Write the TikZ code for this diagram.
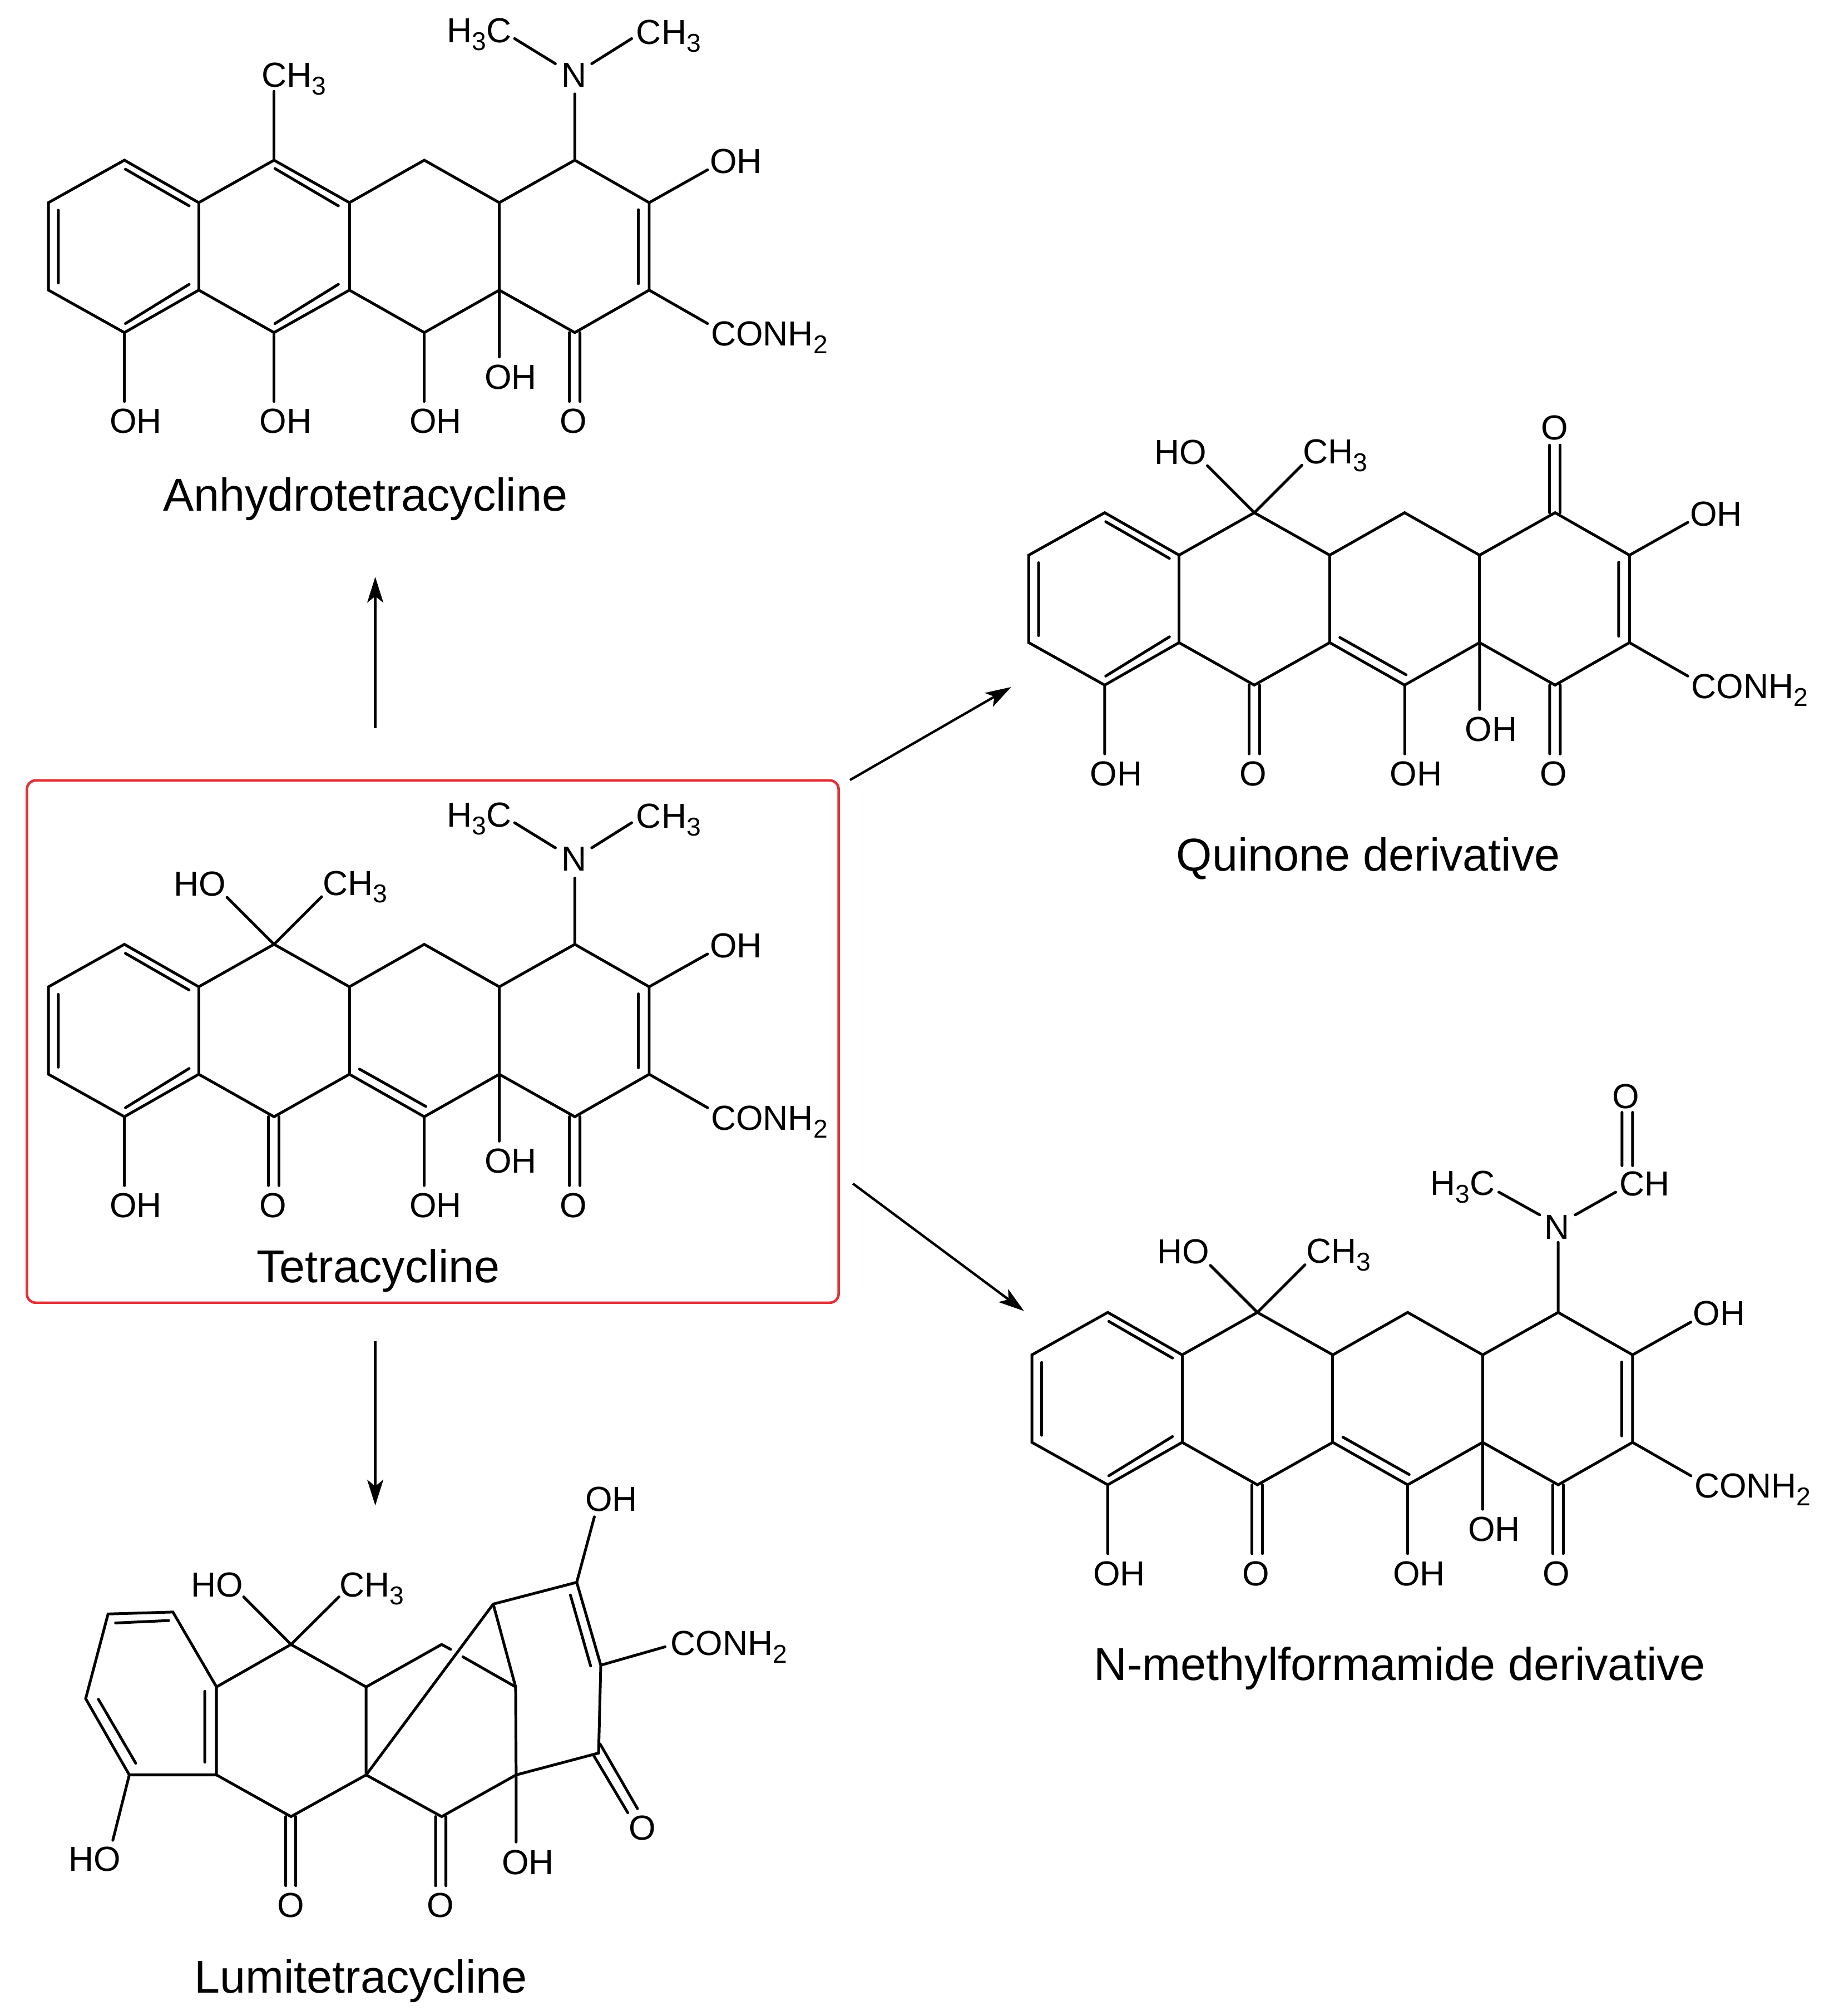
\documentclass[tikz,border=0pt]{standalone}
\usepackage{fontspec}
\setmainfont{Liberation Sans}
\usetikzlibrary{arrows.meta}
\newcommand{\subn}[1]{\raisebox{-6pt}{\fontsize{20}{20}\selectfont #1}}
\tikzset{
  bond/.style={line width=2.15pt,black,line join=miter,line cap=round},
  lbl/.style={font=\fontsize{27}{30}\selectfont,inner sep=0pt,text height=19.5pt,text depth=0pt,black},
  captiontext/.style={font=\fontsize{35.8}{40}\selectfont,inner sep=0pt,black,anchor=base},
  flow/.style={line width=1.9pt,black,-{Stealth[length=20pt,width=12.5pt,inset=5pt]}},
  frame/.style={draw={rgb,255:red,225;green,50;blue,55},line width=2pt,rounded corners=7pt}
}
% common tetracycline skeleton, #1 = name prefix
\newcommand{\skeleton}[1]{%
  \coordinate (#1a) at (37.7,157.5);  \coordinate (#1b) at (96.7,124.5);  \coordinate (#1c) at (154.5,157.5);
  \coordinate (#1d) at (213,124.5);   \coordinate (#1e) at (271.6,157.5); \coordinate (#1f) at (329.8,124.5);
  \coordinate (#1g) at (388.1,157.5); \coordinate (#1h) at (446.8,124.5); \coordinate (#1i) at (504.6,157.5);
  \coordinate (#1j) at (37.7,225.5);  \coordinate (#1k) at (96.7,258.5);  \coordinate (#1l) at (154.5,225.5);
  \coordinate (#1m) at (213,258.5);   \coordinate (#1n) at (271.6,225.5); \coordinate (#1o) at (329.8,258.5);
  \coordinate (#1p) at (388.1,225.5); \coordinate (#1q) at (446.8,258.5); \coordinate (#1r) at (504.6,225.5);
  \draw[bond] (#1a)--(#1b)--(#1c)--(#1d)--(#1e)--(#1f)--(#1g)--(#1h)--(#1i)--(#1r)--(#1q)--(#1p)--(#1o)--(#1n)--(#1m)--(#1l)--(#1k)--(#1j)--cycle;
  \draw[bond] (#1c)--(#1l) (#1e)--(#1n) (#1g)--(#1p);
  % inner lines of the double bonds
  \coordinate (#1i1) at (45.3,163.4);  \coordinate (#1i2) at (45.3,220);
  \coordinate (#1i3) at (97.5,131.5);  \coordinate (#1i4) at (147,160);
  \coordinate (#1i5) at (97.5,251.5);  \coordinate (#1i6) at (147,221);
  \coordinate (#1i7) at (496.2,163);   \coordinate (#1i8) at (496.2,220.5);
  \draw[bond] (#1i1)--(#1i2) (#1i3)--(#1i4) (#1i5)--(#1i6) (#1i7)--(#1i8);
  % substituents
  \node[lbl] (#1OHr) at (572,125) {OH};
  \node[lbl] (#1CON) at (598,259) {CONH\subn{2}};
  \node[lbl] (#1OHa) at (105.6,327) {OH};
  \node[lbl] (#1OHc) at (397,292.5) {OH};
  \node[lbl] (#1Oq)  at (445.5,327) {O};
  \coordinate (#1e1) at (550,132); \coordinate (#1e2) at (550,251.5);
  \coordinate (#1e3) at (96.7,312);  \coordinate (#1e4) at (388.1,277.5);
  \coordinate (#1e5) at (442.6,258.5); \coordinate (#1e6) at (442.6,312);
  \coordinate (#1e7) at (450.8,258.5); \coordinate (#1e8) at (450.8,312);
  \draw[bond] (#1i)--(#1e1) (#1r)--(#1e2) (#1k)--(#1e3) (#1p)--(#1e4) (#1e5)--(#1e6) (#1e7)--(#1e8);
}
% the C(OH)(CH3) centre
\newcommand{\hydroxymethyl}[1]{%
  \node[lbl] (#1HO) at (155.5,77) {HO};
  \node[lbl] (#1Me) at (276,76.5) {CH\subn{3}};
  \coordinate (#1e9) at (176.5,88);  \coordinate (#1e10) at (250,87.5);
  \draw[bond] (#1d)--(#1e9) (#1d)--(#1e10);
}
% the double bond C=C(OH) and O= of the tetracycline type
\newcommand{\tetraBottom}[1]{%
  \coordinate (#1t1) at (279.5,221.5); \coordinate (#1t2) at (331,250.5);
  \draw[bond] (#1t1)--(#1t2);
  \node[lbl] (#1Om) at (212,327) {O};
  \node[lbl] (#1OHo) at (338.6,327) {OH};
  \coordinate (#1t3) at (208.8,258.5); \coordinate (#1t4) at (208.8,312);
  \coordinate (#1t5) at (217,258.5); \coordinate (#1t6) at (217,312);
  \coordinate (#1t7) at (329.8,312);
  \draw[bond] (#1t3)--(#1t4) (#1t5)--(#1t6) (#1o)--(#1t7);
}
% dimethylamino group
\newcommand{\dimethylamino}[1]{%
  \node[lbl] (#1N) at (446.3,57.8) {N};
  \node[lbl] (#1MeL) at (372.6,23.5) {H\subn{3}C};
  \node[lbl] (#1MeR) at (519.7,24.5) {CH\subn{3}};
  \coordinate (#1n1) at (446.8,73); \coordinate (#1n2) at (431.7,49.5); \coordinate (#1n3) at (400,30);
  \coordinate (#1n4) at (460,49.5); \coordinate (#1n5) at (491,30);
  \draw[bond] (#1h)--(#1n1) (#1n2)--(#1n3) (#1n4)--(#1n5);
}
\begin{document}
\begin{tikzpicture}[x=1pt,y=-1pt]
\path[use as bounding box,fill=white] (0,0) rectangle (1425.2,1567);

% ---------- Anhydrotetracycline
\begin{scope}
  \skeleton{A}
  \dimethylamino{A}
  \node[lbl] (AMe) at (228.4,58) {CH\subn{3}};
  \coordinate (Ae9) at (213,71);
  \draw[bond] (Ad)--(Ae9);
  \coordinate (At1) at (213.7,131); \coordinate (At2) at (263,160);
  \coordinate (At3) at (213.7,251.5); \coordinate (At4) at (263,221);
  \draw[bond] (At1)--(At2) (At3)--(At4);
  \node[lbl] (AOHm) at (222,327) {OH};
  \node[lbl] (AOHo) at (338.6,327) {OH};
  \coordinate (At5) at (213,312); \coordinate (At6) at (329.8,312);
  \draw[bond] (Am)--(At5) (Ao)--(At6);
\end{scope}
\node[captiontext] (Acap) at (284,397) {Anhydrotetracycline};

% ---------- Tetracycline
\node[frame,minimum width=631pt,minimum height=406pt,inner sep=0pt] (box) at (336.4,809.6) {};
\begin{scope}[shift={(0,609.5)}]
  \skeleton{T}
  \dimethylamino{T}
  \hydroxymethyl{T}
  \tetraBottom{T}
\end{scope}
\node[captiontext] (Tcap) at (294,997) {Tetracycline};

% ---------- Quinone derivative
\begin{scope}[shift={(762,274)}]
  \skeleton{Q}
  \hydroxymethyl{Q}
  \tetraBottom{Q}
  \node[lbl] (QOt) at (446.3,58) {O};
  \coordinate (Qo1) at (442.6,124.5); \coordinate (Qo2) at (442.6,72);
  \coordinate (Qo3) at (450.8,124.5); \coordinate (Qo4) at (450.8,72);
  \draw[bond] (Qo1)--(Qo2) (Qo3)--(Qo4);
\end{scope}
\node[captiontext] (Qcap) at (1063.6,677) {Quinone derivative};

% ---------- N-methylformamide derivative
\begin{scope}[shift={(764.4,895.6)}]
  \skeleton{F}
  \hydroxymethyl{F}
  \tetraBottom{F}
  \node[lbl] (FN) at (446,57.8) {N};
  \node[lbl] (FMe) at (372.6,23.5) {H\subn{3}C};
  \node[lbl] (FCH) at (513.8,24) {CH};
  \node[lbl] (FO) at (499.6,-44) {O};
  \coordinate (Ff1) at (446.8,70);  \coordinate (Ff2) at (432.5,48.7); \coordinate (Ff3) at (400.7,31);
  \coordinate (Ff4) at (460,48.7);  \coordinate (Ff5) at (491.5,31);
  \coordinate (Ff6) at (496.4,10.4);   \coordinate (Ff7) at (496.4,-31);
  \coordinate (Ff8) at (504.6,10.4);   \coordinate (Ff9) at (504.6,-31);
  \draw[bond] (Fh)--(Ff1) (Ff2)--(Ff3) (Ff4)--(Ff5) (Ff6)--(Ff7) (Ff8)--(Ff9);
\end{scope}
\node[captiontext] (Fcap) at (1088,1306) {N-methylformamide derivative};

% ---------- Lumitetracycline
\coordinate (L1) at (84,1254.5); \coordinate (L2) at (134.4,1253);  \coordinate (L3) at (168.3,1311.2);
\coordinate (L4) at (168.3,1379.6);  \coordinate (L5) at (100.5,1379.6);  \coordinate (L6) at (66.6,1320.3);
\coordinate (L7) at (226.2,1278.2); \coordinate (L8) at (284.6,1311.2); \coordinate (L9) at (284.6,1379.6);
\coordinate (L10) at (226.2,1412); \coordinate (L11) at (343.3,1278.2); \coordinate (L12) at (350.3,1282);
\coordinate (L13) at (359.8,1287.8); \coordinate (L14) at (400.8,1311.2); \coordinate (L15) at (383.4,1246.8);
\coordinate (L16) at (448.3,1229.9); \coordinate (L17) at (401.2,1379.6); \coordinate (L18) at (343.3,1412);
\coordinate (L19) at (465.3,1362.6); \coordinate (L20) at (467,1294.3);
\draw[bond] (L1)--(L2)--(L3)--(L4)--(L5)--(L6)--cycle;
\draw[bond] (L3)--(L7)--(L8)--(L9)--(L10)--(L4);
\draw[bond] (L8)--(L11)--(L12) (L13)--(L14);
\draw[bond] (L9)--(L15)--(L16)--(L20)--(L19)--(L17)--(L18)--(L9);
\draw[bond] (L15)--(L14)--(L17);
\coordinate (Li1) at (89.8,1261.5); \coordinate (Li2) at (131.1,1259.6);
\coordinate (Li3) at (76.5,1320.8);   \coordinate (Li4) at (105.5,1370.5);
\coordinate (Li5) at (159.2,1314.6);  \coordinate (Li6) at (159.2,1369.7);
\coordinate (Li7) at (443.4,1239.8);  \coordinate (Li8) at (459.1,1294.9);
\draw[bond] (Li1)--(Li2) (Li3)--(Li4) (Li5)--(Li6) (Li7)--(Li8);
\node[lbl] (LHO) at (168.7,1231.5) {HO};
\node[lbl] (LMe) at (289,1231.5) {CH\subn{3}};
\node[lbl] (LOHt) at (475.3,1165) {OH};
\node[lbl] (LCON) at (566.6,1277) {CONH\subn{2}};
\node[lbl] (LHOb) at (73.6,1444.5) {HO};
\node[lbl] (LO1) at (226.2,1480.4) {O};
\node[lbl] (LO2) at (342.5,1480.4) {O};
\node[lbl] (LOHb) at (410.3,1447.3) {OH};
\node[lbl] (LO3) at (499.2,1420.5) {O};
\coordinate (Le1) at (189.4,1241.2); \coordinate (Le2) at (263.5,1241.2);
\coordinate (Le3) at (462,1179); \coordinate (Le4) at (517,1280);
\coordinate (Le5) at (87.7,1430.4); \coordinate (Le6) at (401.2,1431.8);
\draw[bond] (L7)--(Le1) (L7)--(Le2) (L16)--(Le3) (L20)--(Le4) (L5)--(Le5) (L17)--(Le6);
\coordinate (Ld1) at (222.1,1412); \coordinate (Ld2) at (222.1,1465.7);
\coordinate (Ld3) at (229.9,1412); \coordinate (Ld4) at (229.9,1465.7);
\coordinate (Ld5) at (338.6,1412); \coordinate (Ld6) at (338.6,1465.7);
\coordinate (Ld7) at (346.6,1412); \coordinate (Ld8) at (346.6,1465.7);
\coordinate (Ld9) at (466.5,1355.6); \coordinate (Ld10) at (495.5,1405.8);
\coordinate (Ld11) at (461.2,1364); \coordinate (Ld12) at (488,1409);
\draw[bond] (Ld1)--(Ld2) (Ld3)--(Ld4) (Ld5)--(Ld6) (Ld7)--(Ld8) (Ld9)--(Ld10) (Ld11)--(Ld12);
\node[captiontext] (Lcap) at (280.4,1549) {Lumitetracycline};

% ---------- reaction arrows
\coordinate (a1s) at (291.7,566);  \coordinate (a1e) at (291.7,448.4);
\coordinate (a2s) at (660.7,606.3);  \coordinate (a2e) at (786,534);
\coordinate (a3s) at (663,920);  \coordinate (a3e) at (796,1019);
\coordinate (a4s) at (291.7,1042.4); \coordinate (a4e) at (291.7,1170.2);
\draw[flow] (a1s)--(a1e);
\draw[flow] (a2s)--(a2e);
\draw[flow] (a3s)--(a3e);
\draw[flow] (a4s)--(a4e);
\end{tikzpicture}
\end{document}
